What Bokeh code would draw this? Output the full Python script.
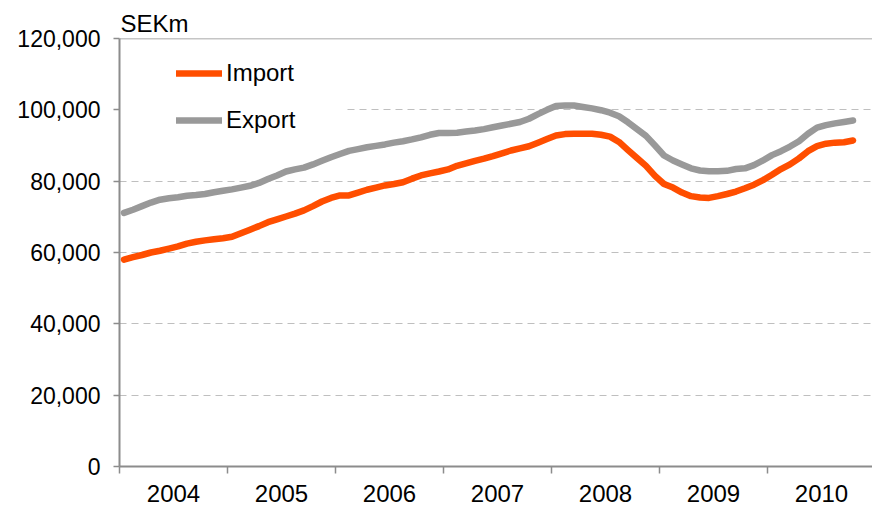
from bokeh.plotting import figure
from bokeh.models import (Range1d, FixedTicker, Span, BoxAnnotation, Legend,
                          LegendItem, NumeralTickFormatter, ColumnDataSource)
from bokeh.embed import file_html
from bokeh.resources import INLINE

# ---- data (monthly, Jan 2004 - Oct 2010, SEKm) ----
years = ["2004", "2005", "2006", "2007", "2008", "2009", "2010"]
y_ticks = [0, 20000, 40000, 60000, 80000, 100000, 120000]

imports = [
    58000, 58700, 59300, 60000, 60500, 61100, 61700, 62500, 63000, 63400, 63700, 64000,   # 2004
    64400, 65400, 66400, 67400, 68500, 69300, 70100, 70900, 71800, 73000, 74300, 75300,   # 2005
    76000, 76000, 76800, 77600, 78200, 78800, 79200, 79700, 80700, 81600, 82200, 82700,   # 2006
    83300, 84300, 85000, 85700, 86300, 87000, 87800, 88600, 89200, 89800, 90800, 91800,   # 2007
    92800, 93200, 93300, 93300, 93300, 93000, 92500, 91000, 88700, 86500, 84300, 81500,   # 2008
    79200, 78200, 76800, 75800, 75400, 75300, 75800, 76400, 77100, 78000, 79000, 80300,   # 2009
    81800, 83400, 84700, 86400, 88400, 89800, 90500, 90800, 90900, 91400,                 # 2010
]
exports = [
    71100, 72000, 73000, 74000, 74800, 75200, 75500, 75900, 76100, 76400, 76900, 77300,   # 2004
    77700, 78200, 78700, 79500, 80600, 81600, 82700, 83300, 83800, 84700, 85700, 86700,   # 2005
    87600, 88500, 89000, 89500, 89900, 90300, 90800, 91200, 91700, 92300, 93000, 93500,   # 2006
    93500, 93600, 93900, 94200, 94600, 95100, 95600, 96100, 96600, 97500, 98800, 100000,  # 2007
    101100, 101200, 101200, 100800, 100400, 99900, 99200, 98200, 96500, 94600, 92700, 90000,  # 2008
    87200, 85800, 84700, 83600, 83000, 82800, 82800, 82900, 83400, 83600, 84500, 85800,   # 2009
    87300, 88400, 89700, 91200, 93300, 95000, 95700, 96200, 96600, 97000,                 # 2010
]
months = list(range(len(imports)))

FONT = "Liberation Sans"

src = ColumnDataSource(dict(m=months, imp=imports, exp=exports))

p = figure(width=872, height=515, output_backend="svg", toolbar_location=None,
           x_range=Range1d(-0.5, -0.5 + 753 / 9), y_range=Range1d(0, 120000),
           min_border_left=119, min_border_right=0, min_border_top=38, min_border_bottom=49,
           title="SEKm")
p.outline_line_color = None
p.background_fill_color = "white"
p.border_fill_color = "white"

p.title.align = "left"
p.title.text_font = FONT
p.title.text_font_size = "24px"
p.title.text_font_style = "normal"
p.title.text_color = "black"
p.title.standoff = 4
p.title.offset = 1

# grid
p.xgrid.visible = False
p.ygrid.grid_line_color = "#BFBFBF"
p.ygrid.grid_line_dash = "7 5"
p.ygrid.grid_line_width = 1

# y axis
p.yaxis.ticker = FixedTicker(ticks=y_ticks)
p.yaxis.formatter = NumeralTickFormatter(format="0,0")
p.yaxis.axis_line_color = "#8C8C8C"
p.yaxis.axis_line_width = 2
p.yaxis.major_tick_line_color = "#8C8C8C"
p.yaxis.major_tick_line_width = 1.5
p.yaxis.major_tick_in = 0
p.yaxis.major_tick_out = 6
p.yaxis.minor_tick_line_color = None
p.yaxis.major_label_standoff = 13
p.yaxis.major_label_text_font = FONT
p.yaxis.major_label_text_font_size = "23px"
p.yaxis.major_label_text_color = "black"

# x axis: labels at year middles, tick marks at year boundaries
mids = [12 * k + 5.5 for k in range(len(years))]
bounds = [12 * k - 0.5 for k in range(len(years) + 1)]
p.xaxis.ticker = FixedTicker(ticks=mids, minor_ticks=bounds)
p.xaxis.major_label_overrides = {m: y for m, y in zip(mids, years)}
p.xaxis.axis_line_color = "#8C8C8C"
p.xaxis.axis_line_width = 2
p.xaxis.major_tick_line_color = None
p.xaxis.major_tick_in = 0
p.xaxis.major_tick_out = 0
p.xaxis.minor_tick_line_color = "#8C8C8C"
p.xaxis.minor_tick_line_width = 1.5
p.xaxis.minor_tick_in = 0
p.xaxis.minor_tick_out = 7
p.xaxis.major_label_standoff = 11
p.xaxis.major_label_text_font = FONT
p.xaxis.major_label_text_font_size = "24px"
p.xaxis.major_label_text_color = "black"

# solid line at top of the plot area
p.add_layout(Span(location=120000, dimension="width", line_color="#8C8C8C", line_width=1.5))

# white box behind the legend (hides gridline as in the original)
p.add_layout(BoxAnnotation(left=-0.45, right=24.6, bottom=96500, top=116000,
                           fill_color="white", fill_alpha=1, line_color=None, level="glyph"))

r_imp = p.line("m", "imp", source=src, line_color="#FF4E00", line_width=6.5,
               line_join="round", line_cap="round")
r_exp = p.line("m", "exp", source=src, line_color="#999999", line_width=6.5,
               line_join="round", line_cap="round")

legend = Legend(items=[LegendItem(label="Import", renderers=[r_imp]),
                       LegendItem(label="Export", renderers=[r_exp])],
                location=(57, 332), padding=0, margin=0, spacing=19,
                glyph_width=46, glyph_height=22, label_height=22, label_standoff=4,
                label_text_font=FONT, label_text_font_size="24px", label_text_color="black",
                border_line_color=None, background_fill_alpha=0)
p.add_layout(legend)

open("out.html", "w").write(file_html(p, INLINE))
